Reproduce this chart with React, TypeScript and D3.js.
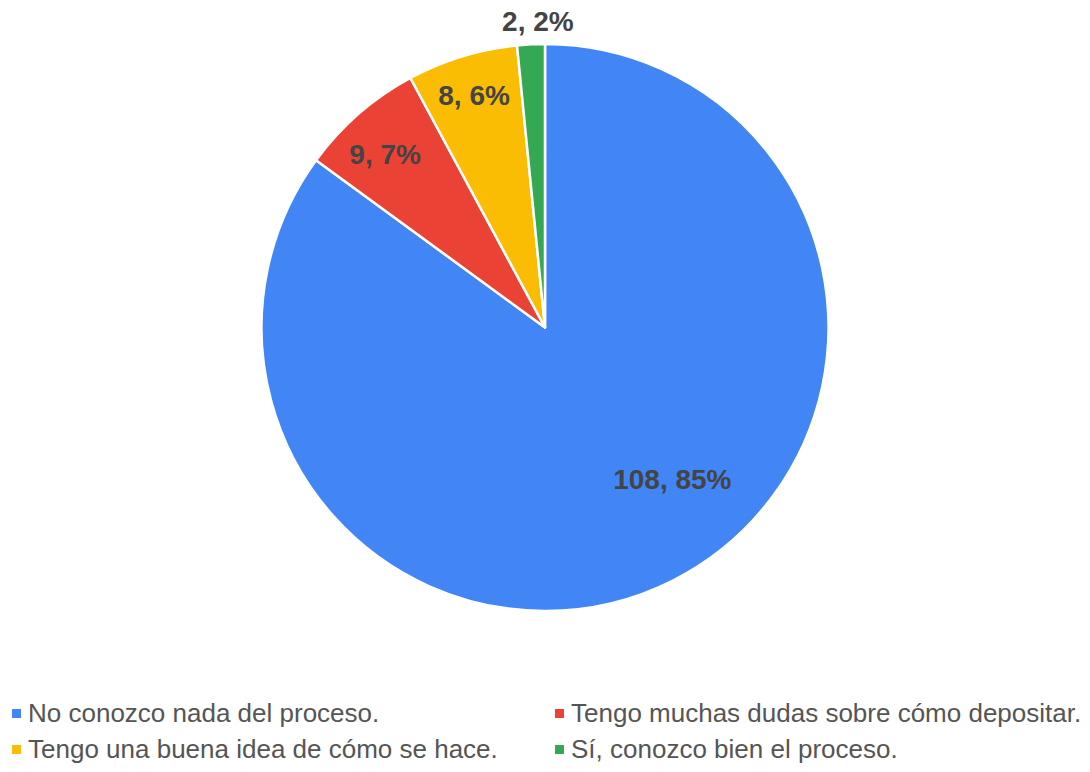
import React, { useMemo } from "react";
import * as d3 from "d3";

const WIDTH = 1090;
const HEIGHT = 772;
const CX = 545;
const CY = 327.5;
const RADIUS = 283.5;

const categories = [
  "No conozco nada del proceso.",
  "Tengo muchas dudas sobre cómo depositar.",
  "Tengo una buena idea de cómo se hace.",
  "Sí, conozco bien el proceso.",
];
const counts = [108, 9, 8, 2];
const colors = ["#4285f4", "#ea4335", "#fbbc04", "#34a853"];

// label placement (fraction of radius, angle nudge in degrees), tuned to the reference
const labelRadius = [0.7, 0.83, 0.855, 1.08];
const labelNudge = [-13, -1.7, 0, 1.5];

const FONT = "Arial, 'Liberation Sans', sans-serif";

export default function App() {
  const total = d3.sum(counts);

  const arcs = useMemo(() => {
    const pie = d3
      .pie<number>()
      .sort(null)
      .value((d) => d);
    return pie(counts);
  }, []);

  const arcGen = d3.arc<d3.PieArcDatum<number>>().innerRadius(0).outerRadius(RADIUS);

  const legendRows = [
    [0, 1],
    [2, 3],
  ];
  const legendCols = [12, 555];
  const legendY = [722, 758];

  return (
    <div style={{ position: "absolute", left: 0, top: 0 }}>
      <svg width={WIDTH} height={HEIGHT} style={{ display: "block", background: "#fff" }}>
        <g transform={`translate(${CX},${CY})`}>
          {arcs.map((a, i) => (
            <path
              key={i}
              d={arcGen(a) || ""}
              fill={colors[i]}
              stroke="#ffffff"
              strokeWidth={2.5}
              strokeLinejoin="round"
            />
          ))}
          {arcs.map((a, i) => {
            const mid = (a.startAngle + a.endAngle) / 2 + (labelNudge[i] * Math.PI) / 180;
            const r = RADIUS * labelRadius[i];
            const x = Math.sin(mid) * r;
            const y = -Math.cos(mid) * r;
            const pct = Math.round((counts[i] / total) * 100);
            return (
              <text
                key={i}
                x={x}
                y={y}
                textAnchor="middle"
                dominantBaseline="central"
                style={{ fontFamily: FONT, fontSize: 28, fontWeight: "bold", fill: "#444444" }}
              >
                {`${counts[i]}, ${pct}%`}
              </text>
            );
          })}
        </g>

        {legendRows.map((row, ri) =>
          row.map((idx, ci) => (
            <g key={`${ri}-${ci}`} transform={`translate(${legendCols[ci]},${legendY[ri]})`}>
              <rect x={0} y={-13} width={9} height={9} fill={colors[idx]} />
              <text
                x={16}
                y={0}
                style={{ fontFamily: FONT, fontSize: 26, fill: "#555555" }}
              >
                {categories[idx]}
              </text>
            </g>
          ))
        )}
      </svg>
    </div>
  );
}
